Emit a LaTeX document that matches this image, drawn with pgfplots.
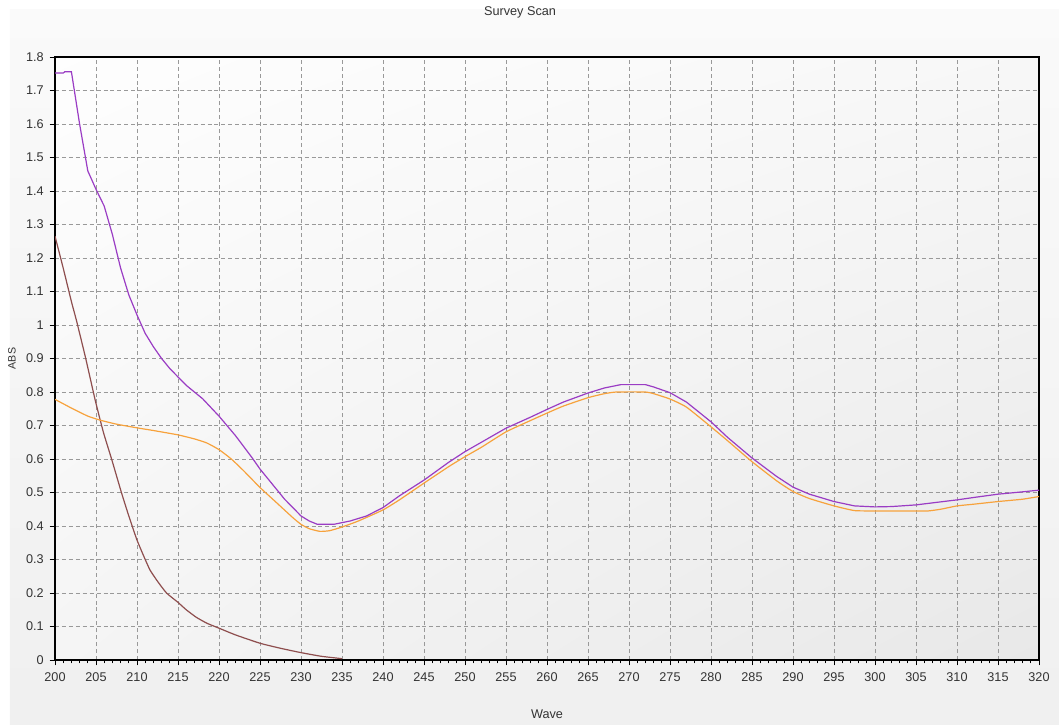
\documentclass[border=0pt]{standalone}
\usepackage{pgfplots}
\pgfplotsset{compat=1.18}
\usepackage{fontspec}
\setmainfont{Liberation Sans}
\usetikzlibrary{shadings}
\definecolor{cpurple}{HTML}{9A3CC4}
\definecolor{corange}{HTML}{F7A23C}
\definecolor{cbrown}{HTML}{8E4E4E}
\definecolor{ctext}{HTML}{333333}
\begin{document}
\begin{tikzpicture}
\path[use as bounding box] (-41.25pt,-48pt) rectangle (753pt,495pt);
\fill[white] (-41.25pt,-48pt) rectangle (753pt,495pt);
\shade[top color=gray!4, bottom color=gray!12] (-33.75pt,-48pt) rectangle (753pt,487.5pt);
\begin{axis}[
  at={(0,0)}, anchor=south west,
  scale only axis, width=738pt, height=452.25pt,
  xmin=200, xmax=320, ymin=0, ymax=1.8,
  xtick={200,205,...,320},
  ytick={0,0.1,0.2,0.3,0.4,0.5,0.6,0.7,0.8,0.9,1,1.1,1.2,1.3,1.4,1.5,1.6,1.7,1.8},
  yticklabels={0,0.1,0.2,0.3,0.4,0.5,0.6,0.7,0.8,0.9,1,1.1,1.2,1.3,1.4,1.5,1.6,1.7,1.8},
  minor x tick num=4,
  xtick pos=left, ytick pos=left,
  tick align=outside,
  major tick length=4pt, minor tick length=2.5pt,
  tick style={black, line width=0.6pt},
  grid=major,
  major grid style={gray!80, line width=0.6pt, dash pattern=on 3pt off 2.2pt},
  axis line style={black, line width=1.3pt},
  axis background/.style={shade, upper left=gray!1, upper right=gray!6, lower left=gray!8, lower right=gray!18},
  /pgf/number format/assume math mode=true,
  ticklabel style={font=\fontsize{9.5}{11}\selectfont, text=ctext},
  xticklabel style={yshift=-2pt},
  yticklabel style={xshift=-1pt},
  every axis title shift=0pt,
  title={Survey Scan},
  title style={at={(axis description cs:0.4726,1)}, anchor=center, yshift=33.75pt, font=\fontsize{9.5}{11}\selectfont, text=ctext},
  xlabel={Wave},
  xlabel style={at={(axis description cs:0.5,0)}, anchor=center, yshift=-41pt, font=\fontsize{9.5}{11}\selectfont, text=ctext},
  ylabel={ABS},
  ylabel style={at={(axis description cs:-0.0437,0.5)}, anchor=center, font=\fontsize{8}{9}\selectfont, text=ctext},
]
\addplot[cbrown, line width=0.9pt, smooth, tension=0.3] coordinates {
(200,1.265) (201,1.17) (202,1.07) (202.6,1.015) (203.7,0.905) (204.9,0.776)
(205.9,0.68) (206.9,0.6) (208.1,0.5) (209,0.43) (210,0.358) (211,0.3)
(211.6,0.268) (212.5,0.235) (213.6,0.2) (215,0.172) (216,0.15) (217.2,0.128)
(218.5,0.11) (220,0.095) (222,0.075) (225,0.05) (227.5,0.035) (230,0.022)
(232.5,0.011) (235,0.004)
};
\addplot[corange, line width=0.9pt, smooth, tension=0.3] coordinates {
(200,0.778) (202,0.752) (204,0.728) (205.5,0.716) (207.5,0.704) (210,0.693)
(212,0.685) (215,0.672) (217,0.66) (218.5,0.648) (220,0.628) (221.5,0.6)
(223,0.565) (225,0.515) (227,0.47) (229,0.425) (230,0.405) (231,0.392)
(232.3,0.384) (233.5,0.386) (235,0.397) (237,0.415) (240,0.448) (242,0.478)
(245,0.528) (248,0.577) (250,0.607) (252,0.635) (255,0.681) (258,0.715)
(260,0.737) (262,0.758) (265,0.783) (267,0.795) (268.5,0.8) (272,0.8)
(273,0.795) (275,0.779) (277,0.755) (280,0.696) (282,0.655) (285,0.592)
(288,0.535) (290,0.503) (292,0.482) (295,0.46) (297.5,0.446) (300,0.445)
(305,0.445) (306.5,0.445) (308,0.45) (310,0.46) (312,0.465) (315,0.473)
(318,0.48) (320,0.488)
};
\addplot[cpurple, line width=0.9pt] coordinates {
(200,1.752) (201,1.752) (201.2,1.756) (202,1.756) (203,1.6) (204,1.46)
(205,1.405) (206,1.355) (207,1.27) (208,1.17) (209,1.09) (210,1.03)
(211,0.975) (212,0.935) (213,0.9) (214,0.87) (215,0.845) (216,0.82)
(218,0.78) (220,0.728) (222,0.67) (224,0.605) (225,0.57) (226,0.54)
(228,0.48) (230,0.43) (231,0.415) (232,0.405) (234,0.405) (235,0.41)
(236,0.415) (238,0.43) (240,0.455) (242,0.49) (245,0.537) (248,0.59)
(250,0.622) (252,0.65) (255,0.692) (258,0.725) (260,0.748) (262,0.77)
(265,0.797) (267,0.812) (269,0.822) (272,0.822) (273,0.815) (275,0.798)
(277,0.77) (280,0.711) (282,0.665) (285,0.603) (288,0.548) (290,0.516)
(292,0.495) (295,0.473) (297.5,0.46) (300,0.457) (302,0.458) (305,0.463)
(308,0.472) (310,0.478) (312,0.485) (315,0.495) (318,0.502) (320,0.507)
};
\end{axis}
\end{tikzpicture}
\end{document}
